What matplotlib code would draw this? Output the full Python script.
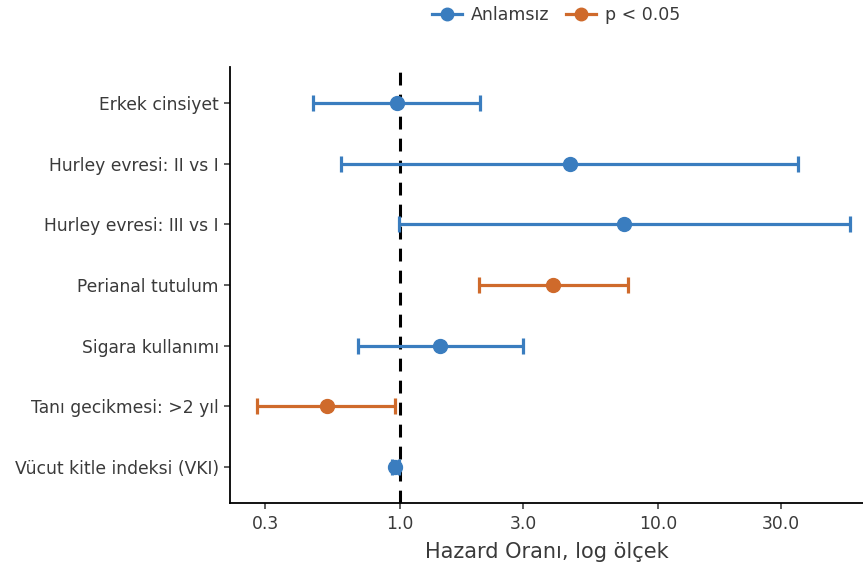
import numpy as np
import matplotlib.pyplot as plt
from matplotlib.lines import Line2D

plt.rcParams["font.family"] = ["DejaVu Sans"]

# Cox model estimates (hazard ratio with 95% CI)
variables = [
    "Erkek cinsiyet",
    "Hurley evresi: II vs I",
    "Hurley evresi: III vs I",
    "Perianal tutulum",
    "Sigara kullanımı",
    "Tanı gecikmesi: >2 yıl",
    "Vücut kitle indeksi (VKI)",
]
hr = [0.97, 4.56, 7.38, 3.91, 1.43, 0.52, 0.96]
ci_low = [0.46, 0.59, 0.99, 2.02, 0.69, 0.28, 0.93]
ci_high = [2.04, 34.9, 55.5, 7.65, 3.00, 0.96, 0.99]
significant = [False, False, False, True, False, True, False]

blue = "#3a7dbf"
orange = "#cf6a2b"
text_col = "#3a3a3a"

fig = plt.figure(figsize=(8.63, 5.69), dpi=100)
ax = fig.add_axes([230 / 863, 1 - 503.4 / 569, 1 - 230 / 863, (503.4 - 66.6) / 569])

y = np.arange(len(variables))[::-1] + 1

ax.axvline(1.0, color="black", lw=2.2, ls=(0, (4.2, 3)), zorder=1)

for yi, h, lo, hi, sig in zip(y, hr, ci_low, ci_high, significant):
    c = orange if sig else blue
    ax.errorbar(h, yi, xerr=[[h - lo], [hi - h]], fmt="o", color=c,
                ms=10, lw=2.3, capsize=5.5, capthick=2.3, zorder=3)

ax.set_xscale("log")
ax.set_xlim(10 ** (-170 / 258), 10 ** (463 / 258))
ax.set_ylim(0.4, len(variables) + 0.6)
ax.set_xticks([0.3, 1.0, 3.0, 10.0, 30.0])
ax.set_xticklabels(["0.3", "1.0", "3.0", "10.0", "30.0"])
ax.xaxis.set_minor_locator(plt.NullLocator())
ax.set_yticks(y)
ax.set_yticklabels(variables)

for s in ["top", "right"]:
    ax.spines[s].set_visible(False)
for s in ["left", "bottom"]:
    ax.spines[s].set_linewidth(1.3)
ax.tick_params(axis="both", length=4, width=1.1, labelsize=12.3,
               labelcolor=text_col, color="#333333", pad=4)

ax.set_xlabel("Hazard Oranı, log ölçek", fontsize=15, color=text_col, labelpad=7)

handles = [
    Line2D([0], [0], color=blue, marker="o", ms=9, lw=2.3),
    Line2D([0], [0], color=orange, marker="o", ms=9, lw=2.3),
]
fig.legend(handles, ["Anlamsız", "p < 0.05"], loc="center",
           bbox_to_anchor=(556 / 863, 1 - 15 / 569), ncol=2, frameon=False,
           fontsize=12.5, handlelength=1.7, columnspacing=1.0, handletextpad=0.5,
           labelcolor=text_col)

fig.savefig("out.png", dpi=100)
